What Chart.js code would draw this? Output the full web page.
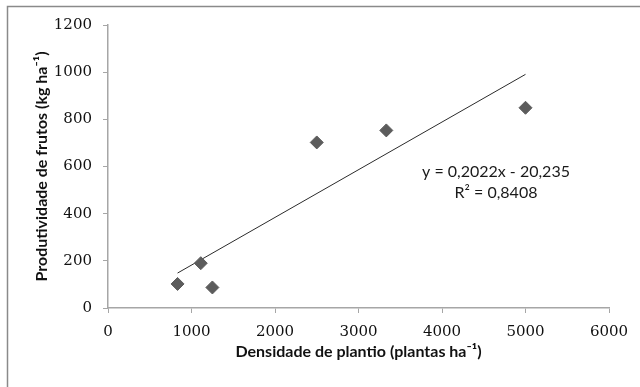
<!DOCTYPE html>
<html>
<head>
<meta charset="utf-8">
<script src="https://cdn.jsdelivr.net/npm/chart.js@4.4.1/dist/chart.umd.min.js"></script>
<style>
  html, body { margin: 0; padding: 0; background: #fff; }
  #wrap { position: relative; width: 640px; height: 387px; }
</style>
</head>
<body>
<div id="wrap"><canvas id="chart" width="640" height="387"></canvas></div>
<script>
// Observed points
const densidade = [833, 1111, 1250, 2500, 3333, 5000];
const produtividade = [102, 190, 87, 702, 753, 849];

// Linear trend shown in the figure
const slope = 0.2022;
const intercept = -20.235;
const trendX = [833, 5000];
const equationLines = ["y = 0,2022x - 20,235", "R\u00b2 = 0,8408"];

const xTicks = [0, 1000, 2000, 3000, 4000, 5000, 6000];
const yTicks = [0, 200, 400, 600, 800, 1000, 1200];

const AXIS_GRAY = '#a6a6a6';
const MARKER_GRAY = '#5c5c5c';

const points = densidade.map((x, i) => ({ x: x, y: produtividade[i] }));
const trend = trendX.map(x => ({ x: x, y: slope * x + intercept }));

// Frame around the figure and the equation label
const decorPlugin = {
    id: 'decor',
    afterDraw(chart) {
        const ctx = chart.ctx;
        ctx.save();
        ctx.strokeStyle = '#8a8a8a';
        ctx.lineWidth = 1.5;
        ctx.beginPath();
        ctx.moveTo(7.5, 387);
        ctx.lineTo(7.5, 6.5);
        ctx.lineTo(640, 6.5);
        ctx.stroke();

        ctx.fillStyle = '#1a1a1a';
        ctx.font = '16px Lato, "Open Sans", sans-serif';
        ctx.textAlign = 'center';
        ctx.textBaseline = 'middle';
        ctx.fillText(equationLines[0], 496, 172);
        ctx.fillText(equationLines[1], 496, 193);
        ctx.restore();
    }
};

const tickFont = { family: '"DejaVu Serif", serif', size: 15 };
const titleFont = { family: 'Lato, "Open Sans", sans-serif', size: 16, weight: 'bold' };

new Chart(document.getElementById('chart'), {
    type: 'scatter',
    data: {
        datasets: [
            {
                label: 'Linear',
                type: 'line',
                data: trend,
                borderColor: '#2b2b2b',
                borderWidth: 1,
                pointRadius: 0,
                fill: false,
                order: 2
            },
            {
                label: 'Produtividade',
                data: points,
                pointStyle: 'rectRot',
                pointRadius: 6.5,
                backgroundColor: MARKER_GRAY,
                borderColor: MARKER_GRAY,
                borderWidth: 1,
                order: 1
            }
        ]
    },
    options: {
        responsive: false,
        animation: false,
        layout: { padding: { top: 25, right: 31, bottom: 0, left: 0 } },
        plugins: {
            legend: { display: false },
            tooltip: { enabled: false }
        },
        scales: {
            x: {
                type: 'linear',
                min: 0,
                max: 6000,
                afterBuildTicks(scale) { scale.ticks = xTicks.map(v => ({ value: v })); },
                afterFit(scale) { scale.height = 79; },
                grid: { display: true, drawOnChartArea: false, drawTicks: true, tickLength: 5, color: AXIS_GRAY },
                border: { color: AXIS_GRAY, width: 1.5 },
                ticks: {
                    color: '#111',
                    padding: 10,
                    maxRotation: 0,
                    font: tickFont,
                    callback: v => String(v)
                },
                title: {
                    display: true,
                    text: 'Densidade de plantio (plantas ha\u207b\u00b9)',
                    color: '#111',
                    font: titleFont,
                    padding: { top: 0, bottom: 26 }
                }
            },
            y: {
                type: 'linear',
                min: 0,
                max: 1200,
                afterBuildTicks(scale) { scale.ticks = yTicks.map(v => ({ value: v })); },
                afterFit(scale) { scale.width = 108; },
                grid: { display: true, drawOnChartArea: false, drawTicks: true, tickLength: 5, color: AXIS_GRAY },
                border: { color: AXIS_GRAY, width: 1.5 },
                ticks: {
                    color: '#111',
                    padding: 11,
                    font: tickFont,
                    callback: v => String(v)
                },
                title: {
                    display: true,
                    text: 'Produtividade de frutos (kg ha\u207b\u00b9)',
                    color: '#111',
                    font: titleFont,
                    padding: { top: 32, bottom: 0 }
                }
            }
        }
    },
    plugins: [decorPlugin]
});
</script>
</body>
</html>
